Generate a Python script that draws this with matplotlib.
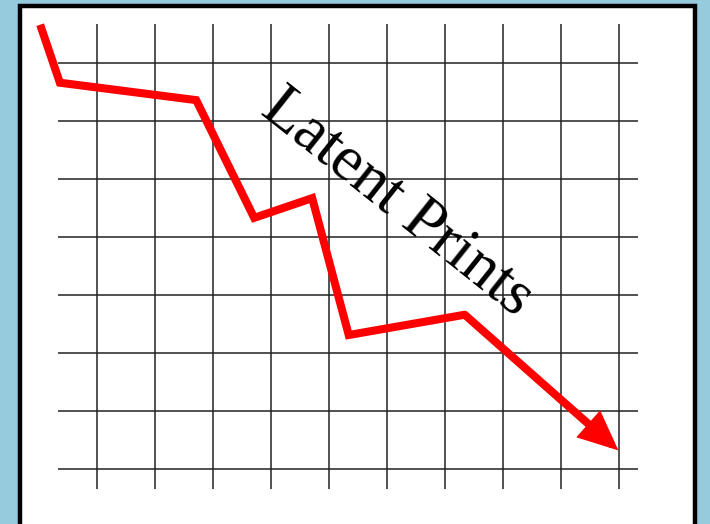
import matplotlib
matplotlib.use("Agg")
import matplotlib.pyplot as plt
from matplotlib.patches import Rectangle
import numpy as np

# grid units: one cell = 58 px
grid_x = [1, 2, 3, 4, 5, 6, 7, 8, 9, 10]
grid_y = [1, 2, 3, 4, 5, 6, 7, 8]

# the falling red line (grid units)
line_x = [0.02, 0.36, 2.71, 3.71, 4.71, 5.34, 7.34]
line_y = [0.34, 1.34, 1.64, 3.67, 3.33, 5.69, 5.34]
arrow_tip = (9.99, 7.68)

title = "Latent Prints"

W, H = 710, 524
fig = plt.figure(figsize=(W / 100, H / 100), dpi=100)
fig.patch.set_facecolor("#96cbdd")

# white board with a black frame, running off the bottom edge
fig.patches.append(Rectangle((20 / W, -0.05), 675 / W, 1.05 - 6 / H, transform=fig.transFigure,
                             facecolor="white", edgecolor="black", linewidth=3.2, zorder=-1))

ax = fig.add_axes([0, 0, 1, 1])
ax.set_xlim(-39 / 58, (W - 39) / 58)
ax.set_ylim((H - 5) / 58, -5 / 58)
ax.axis("off")
ax.patch.set_alpha(0)

ax.vlines(grid_x, 19 / 58, 484 / 58, color="#222222", linewidth=1.1)
ax.hlines(grid_y, 19 / 58, 599 / 58, color="#222222", linewidth=1.1)

ax.plot(line_x, line_y, color="red", linewidth=5.8, solid_joinstyle="miter",
        solid_capstyle="butt", zorder=3)
ax.annotate("", xy=arrow_tip, xytext=(line_x[-1], line_y[-1]),
            arrowprops=dict(arrowstyle="-|>,head_length=1.9,head_width=0.85",
                            mutation_scale=10, color="red", lw=5.8,
                            shrinkA=0, shrinkB=0, joinstyle="miter"),
            zorder=3)

ax.text(397 / 58 - 39 / 58, 203 / 58 - 5 / 58, title, family="Liberation Serif", fontsize=46,
        rotation=-38.5, ha="center", va="center", rotation_mode="anchor", zorder=4)

fig.savefig("out.png", dpi=100)
